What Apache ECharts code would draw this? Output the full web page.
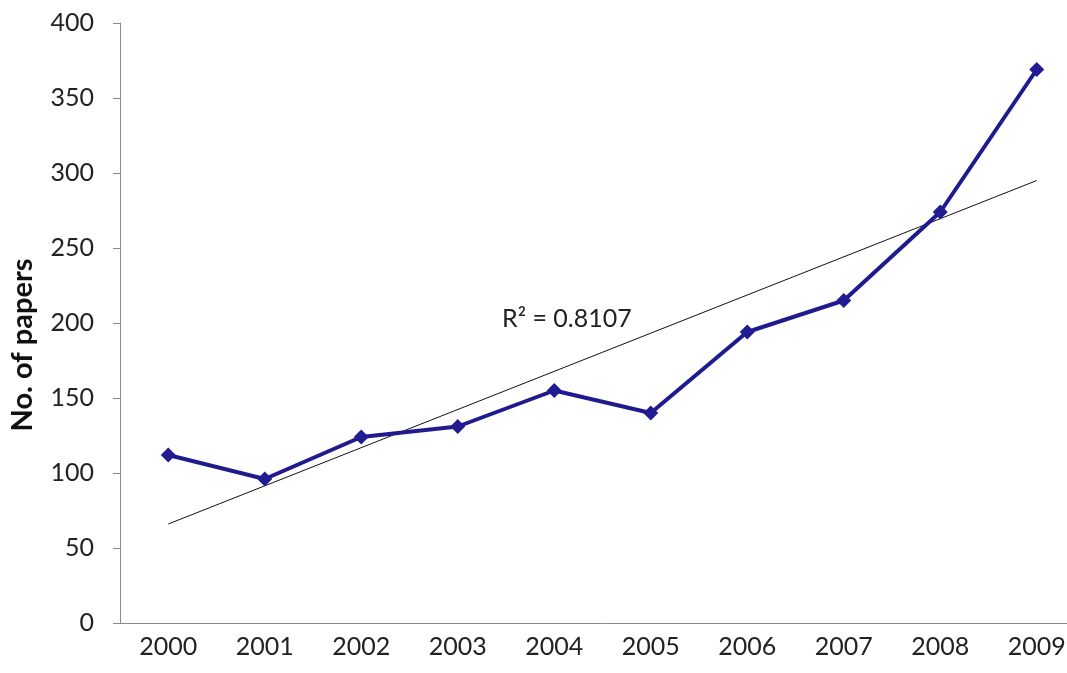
<!DOCTYPE html>
<html>
<head>
<meta charset="utf-8">
<script src="https://cdn.jsdelivr.net/npm/echarts@6/dist/echarts.min.js"></script>
<style>
  html, body { margin: 0; padding: 0; background: #fff; overflow: hidden; }
  #chart { width: 1090px; height: 673px; }
</style>
</head>
<body>
<div id="chart"></div>
<script>
// data
var years = ["2000", "2001", "2002", "2003", "2004", "2005", "2006", "2007", "2008", "2009"];
var papers = [112, 96, 124, 131, 155, 140, 194, 215, 274, 369];
// trend line end points (first and last year)
var trendEnds = [66, 295];
var rSquared = "R\u00b2 = 0.8107";

var chart = echarts.init(document.getElementById("chart"));
var fontFam = "Lato, 'Open Sans', sans-serif";

var option = {
    backgroundColor: "#fff",
    animation: false,
    grid: { left: 118, right: 5, top: 23, bottom: 50 },
    xAxis: {
        type: "category",
        data: years,
        boundaryGap: true,
        axisLine: { lineStyle: { color: "#8a8a8a", width: 1 } },
        axisTick: { length: 7, lineStyle: { color: "#8a8a8a" } },
        axisLabel: { color: "#222", fontSize: 25, fontFamily: fontFam, margin: 11 }
    },
    yAxis: {
        type: "value",
        min: 0,
        max: 400,
        interval: 50,
        name: "No. of papers",
        nameLocation: "middle",
        nameGap: 83,
        nameTextStyle: { color: "#111", fontSize: 29, fontWeight: "bold", fontFamily: fontFam, padding: [0, 44, 0, 0] },
        splitLine: { show: false },
        axisLine: { show: true, lineStyle: { color: "#8a8a8a", width: 1 } },
        axisTick: { show: true, length: 7, lineStyle: { color: "#8a8a8a" } },
        axisLabel: { color: "#222", fontSize: 25, fontFamily: fontFam, margin: 26 }
    },
    series: [
        {
            name: "Trend",
            type: "line",
            data: [[0, trendEnds[0]], [years.length - 1, trendEnds[1]]],
            symbol: "none",
            lineStyle: { color: "#111", width: 1 },
            z: 1
        },
        {
            name: "Papers",
            type: "line",
            data: papers,
            symbol: "diamond",
            symbolSize: 15,
            itemStyle: { color: "#221c92" },
            lineStyle: { color: "#1f1a8e", width: 4 },
            z: 2
        }
    ],
    graphic: [
        {
            type: "text",
            left: 502,
            top: 306,
            style: { text: rSquared, fontSize: 25, fill: "#222", fontFamily: fontFam }
        }
    ]
};
chart.setOption(option);
</script>
</body>
</html>
